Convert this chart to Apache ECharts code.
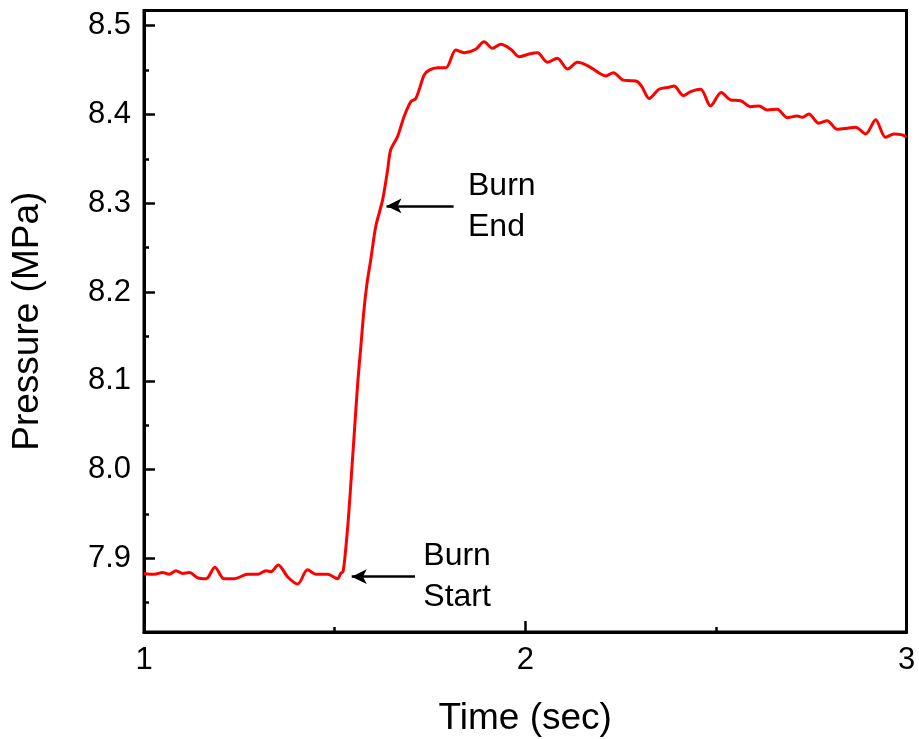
<!DOCTYPE html>
<html>
<head>
<meta charset="utf-8">
<script src="https://cdn.jsdelivr.net/npm/echarts@6/dist/echarts.min.js"></script>
<style>html,body{margin:0;padding:0;background:#fff}#c{width:919px;height:739px}</style>
</head>
<body>
<div id="c"></div>
<script>
const timeSec = [1.000,1.027,1.049,1.066,1.084,1.101,1.119,1.141,1.163,1.186,1.210,1.237,1.272,1.298,1.320,1.333,1.352,1.377,1.403,1.429,1.451,1.482,1.508,1.516,1.522,1.529,1.537,1.545,1.553,1.561,1.569,1.577,1.585,1.595,1.608,1.626,1.639,1.647,1.665,1.682,1.700,1.713,1.735,1.748,1.770,1.792,1.818,1.840,1.870,1.892,1.914,1.936,1.962,1.984,2.010,2.032,2.058,2.084,2.111,2.137,2.163,2.198,2.211,2.231,2.255,2.277,2.294,2.307,2.325,2.351,2.377,2.390,2.415,2.434,2.460,2.486,2.514,2.539,2.565,2.591,2.613,2.635,2.661,2.687,2.713,2.727,2.744,2.770,2.792,2.818,2.845,2.866,2.893,2.919,2.945,2.967,2.989,3.000];
const pressure = [7.883,7.882,7.884,7.882,7.886,7.883,7.884,7.878,7.877,7.890,7.877,7.877,7.882,7.882,7.886,7.885,7.8925,7.879,7.871,7.887,7.882,7.882,7.877,7.883,7.885,7.91,7.95,8.00,8.05,8.10,8.14,8.18,8.21,8.237,8.274,8.304,8.3375,8.36,8.375,8.3975,8.4145,8.418,8.4445,8.450,8.4527,8.4527,8.4726,8.4696,8.4734,8.482,8.4745,8.479,8.4734,8.465,8.4681,8.4696,8.4588,8.4633,8.4512,8.4588,8.455,8.4456,8.4434,8.4471,8.439,8.438,8.437,8.4306,8.418,8.4284,8.4306,8.432,8.4212,8.4257,8.4284,8.4096,8.4246,8.4163,8.4155,8.4088,8.4096,8.4051,8.4059,8.3964,8.3983,8.3968,8.4006,8.3901,8.393,8.3833,8.3844,8.3856,8.378,8.394,8.3743,8.378,8.377,8.3743];
const yMajorTicks = [7.9,8.0,8.1,8.2,8.3,8.4,8.5];
const yMinorTicks = [7.85,7.95,8.05,8.15,8.25,8.35,8.45];
const xTitle = 'Time (sec)';
const yTitle = 'Pressure (MPa)';
const annotations = [
  {text:'Burn\nEnd', label:[1.8498,8.2958], from:[1.812,8.297], to:[1.636,8.297]},
  {text:'Burn\nStart', label:[1.7326,7.879], from:[1.7108,7.8793], to:[1.5448,7.8793]}
];

const FONT = "'Liberation Sans', Arial, sans-serif";
const chart = echarts.init(document.getElementById('c'), null, {renderer:'canvas'});
const Y_MIN = 7.817, Y_MAX = 8.5171;
const data = timeSec.map((t,i)=>[t,pressure[i]]);

chart.setOption({
  animation:false,
  backgroundColor:'#fff',
  grid:{left:144,right:12.5,top:10.5,bottom:107,containLabel:false,outerBoundsMode:'none',
    show:true,borderColor:'#000',borderWidth:3,backgroundColor:'transparent'},
  xAxis:{
    type:'value',min:1,max:3,interval:1,
    name:xTitle,nameLocation:'middle',nameGap:68,
    nameTextStyle:{fontFamily:FONT,fontSize:37,color:'#000'},
    axisLine:{show:true,lineStyle:{color:'#000',width:3}},
    axisTick:{show:true,inside:true,length:11,lineStyle:{color:'#000',width:2.5}},
    minorTick:{show:true,splitNumber:2,length:5,lineStyle:{color:'#000',width:2.5}},
    axisLabel:{fontFamily:FONT,fontSize:31,color:'#000',margin:13},
    splitLine:{show:false}
  },
  yAxis:[{
    type:'value',min:Y_MIN,max:Y_MAX,
    name:yTitle,nameLocation:'middle',nameGap:98,
    nameTextStyle:{fontFamily:FONT,fontSize:37,color:'#000'},
    axisLine:{show:true,lineStyle:{color:'#000',width:3}},
    axisTick:{show:true,inside:true,length:11,customValues:yMajorTicks,lineStyle:{color:'#000',width:2.5}},
    axisLabel:{fontFamily:FONT,fontSize:31,color:'#000',margin:13,customValues:yMajorTicks,formatter:v=>Number(v).toFixed(1)},
    splitLine:{show:false}
  },{
    type:'value',min:Y_MIN,max:Y_MAX,position:'left',
    axisLine:{show:false},
    axisTick:{show:true,inside:true,length:5,customValues:yMinorTicks,lineStyle:{color:'#000',width:2.5}},
    axisLabel:{show:false},
    splitLine:{show:false}
  }],
  series:[{
    type:'line',data:data,smooth:0.3,showSymbol:false,symbol:'none',
    lineStyle:{color:'#ff0000',width:3},
    markLine:{
      silent:true,symbol:['none','arrow'],symbolSize:[11,15],
      lineStyle:{color:'#000',width:2.5,type:'solid'},label:{show:false},
      data:annotations.map(a=>[{coord:a.from},{coord:a.to}])
    },
    markPoint:{
      silent:true,symbol:'circle',symbolSize:0,
      data:annotations.map(a=>({coord:a.label,value:a.text,
        label:{show:true,position:[0,0],align:'left',verticalAlign:'middle',formatter:a.text,
          fontFamily:FONT,fontSize:32,lineHeight:41,color:'#000'}}))
    }
  }]
});
</script>
</body>
</html>
